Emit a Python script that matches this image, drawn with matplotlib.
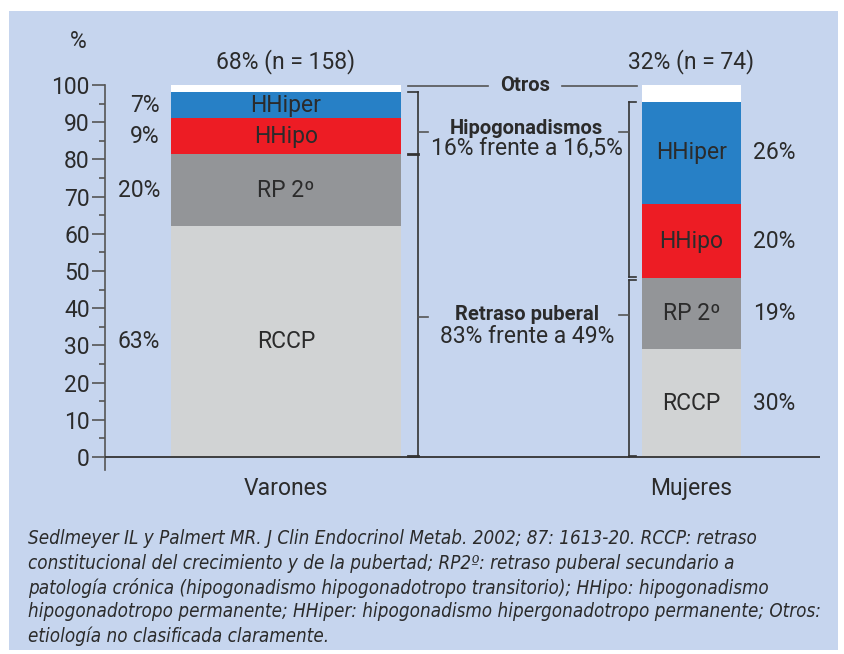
import matplotlib.pyplot as plt
import numpy as np
from matplotlib.patches import Rectangle

# datos
grupos = ['Varones', 'Mujeres']
totales = ['68% (n = 158)', '32% (n = 74)']
etiquetas = ['RCCP', 'RP 2º', 'HHipo', 'HHiper', 'Otros']
varones = [62, 19.5, 9.5, 7, 2]
mujeres = [29, 19, 20, 27.5, 4.5]
pct_varones = ['63%', '20%', '9%', '7%']
pct_mujeres = ['30%', '19%', '20%', '26%']
colores = ['#d1d3d4', '#939598', '#ed1c24', '#2780c6', '#ffffff']

nota = ['Sedlmeyer IL y Palmert MR. J Clin Endocrinol Metab. 2002; 87: 1613-20. RCCP: retraso',
        'constitucional del crecimiento y de la pubertad; RP2º: retraso puberal secundario a',
        'patología crónica (hipogonadismo hipogonadotropo transitorio); HHipo: hipogonadismo',
        'hipogonadotropo permanente; HHiper: hipogonadismo hipergonadotropo permanente; Otros:',
        'etiología no clasificada claramente.']

fondo = '#c6d5ee'
txt = '#2b2b2b'
fs = 16.5
fsb = 14.5
plt.rcParams['font.family'] = ['Roboto', 'DejaVu Sans']

W, H = 844, 654
fig = plt.figure(figsize=(W / 100, H / 100), dpi=100)
fig.patch.set_facecolor('white')
fig.patches.append(Rectangle((9 / W, 1 - 650 / H), 829 / W, 639 / H,
                             transform=fig.transFigure, facecolor=fondo,
                             edgecolor='none', zorder=-5))

ax = fig.add_axes([105 / W, 1 - 470 / H, 715 / W, 385 / H])
ax.set_zorder(2)
ax.set_facecolor('none')

pos = np.arange(len(grupos))
anchos = [0.567, 0.244]
datos = np.array([varones, mujeres])
base = np.zeros(2)
for i, et in enumerate(etiquetas):
    ax.bar(pos, datos[:, i], width=anchos, bottom=base, color=colores[i],
           edgecolor='none', zorder=2)
    if i < 4:
        for g in range(2):
            ax.text(pos[g], base[g] + datos[g, i] / 2, et, ha='center', va='center',
                    fontsize=fs, color=txt, zorder=3)
        yv = base[0] + datos[0, i] / 2
        ax.text(pos[0] - anchos[0] / 2 - 0.027, yv, pct_varones[i], ha='right',
                va='center', fontsize=fs, color=txt)
        ym = base[1] + datos[1, i] / 2
        ax.text(pos[1] + anchos[1] / 2 + 0.03, ym, pct_mujeres[i], ha='left',
                va='center', fontsize=fs, color=txt)
    base = base + datos[:, i]

for g in range(2):
    ax.text(pos[g], 106.3, totales[g], ha='center', va='center', fontsize=fs,
            color=txt, clip_on=False)
    ax.text(pos[g], -8.5, grupos[g], ha='center', va='center', fontsize=fs,
            color=txt, clip_on=False)

ax.set_xlim(-0.446, 1.317)
ax.set_ylim(-3.5, 100)
ax.set_yticks(np.arange(0, 101, 10))
ax.set_yticks(np.arange(5, 100, 10), minor=True)
ax.tick_params(axis='y', which='major', length=9.5, width=1.2, color='#555555',
               labelsize=fs, labelcolor=txt, pad=1.5)
ax.tick_params(axis='y', which='minor', length=4, width=1.2, color='#555555')
ax.set_xticks([])
for s in ['top', 'right', 'bottom']:
    ax.spines[s].set_visible(False)
ax.spines['left'].set_color('#555555')
ax.spines['left'].set_linewidth(1.2)
ax.axhline(0, color='#333333', lw=1.3, zorder=4)
ax.text(-0.513, 111.6, '%', ha='center', va='center', fontsize=fs, color=txt,
        clip_on=False)

# corchetes
cum_v = np.cumsum(varones)
cum_m = np.cumsum(mujeres)
lc = '#333333'
xl, t = 0.3255, 0.025
ax.plot([xl, xl], [0, cum_v[3]], color=lc, lw=1.2, clip_on=False)
ax.plot([xl - t, xl], [cum_v[3], cum_v[3]], color=lc, lw=1.2)
ax.plot([xl - t, xl], [cum_v[1], cum_v[1]], color=lc, lw=2)
ax.plot([xl - t, xl], [0.2, 0.2], color=lc, lw=2)
ax.plot([xl, xl + t], [87.4, 87.4], color='#555555', lw=1.2)
ax.plot([xl, xl + t], [37.7, 37.7], color='#555555', lw=1.2)

xr = 0.847
ax.plot([xr, xr], [cum_m[1] + 0.3, cum_m[3]], color=lc, lw=1.2)
ax.plot([xr, xr + t * 0.7], [cum_m[3], cum_m[3]], color=lc, lw=1.2)
ax.plot([xr, xr + t * 0.7], [cum_m[1] + 0.3, cum_m[1] + 0.3], color=lc, lw=1.2)
ax.plot([xr, xr], [0, cum_m[1] - 0.4], color=lc, lw=1.2)
ax.plot([xr, xr + t * 0.7], [cum_m[1] - 0.4, cum_m[1] - 0.4], color=lc, lw=1.2)
ax.plot([xr, xr + t * 0.7], [0.2, 0.2], color=lc, lw=1.2)
ax.plot([xr - t, xr], [87.4, 87.4], color='#555555', lw=1.2)
ax.plot([xr - t, xr], [38.2, 38.2], color='#555555', lw=1.2)

# Otros
ax.plot([0.301, 0.498], [99.8, 99.8], color='#555555', lw=1.2, clip_on=False)
ax.plot([0.681, 0.866], [99.8, 99.8], color='#555555', lw=1.2, clip_on=False)
ax.text(0.589, 99.8, 'Otros', ha='center', va='center', fontsize=fsb,
        fontweight='bold', color=txt, clip_on=False)

ax.text(0.594, 88.4, 'Hipogonadismos', ha='center', va='center', fontsize=fsb,
        fontweight='bold', color=txt)
ax.text(0.594, 83.0, '16% frente a 16,5%', ha='center', va='center', fontsize=fs,
        color=txt)
ax.text(0.594, 38.3, 'Retraso puberal', ha='center', va='center', fontsize=fsb,
        fontweight='bold', color=txt)
ax.text(0.594, 32.4, '83% frente a 49%', ha='center', va='center', fontsize=fs,
        color=txt)

for k, linea in enumerate(nota):
    fig.text(28 / W, 1 - (539 + k * 24.3) / H, linea, ha='left', va='center',
             fontsize=13.5, style='italic', color=txt, fontstretch='condensed',
             family=['DejaVu Sans'])

fig.savefig('out.png', dpi=100)
